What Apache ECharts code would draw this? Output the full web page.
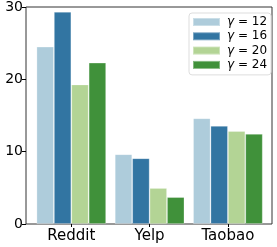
<!DOCTYPE html>
<html><head><meta charset="utf-8">
<script src="https://cdn.jsdelivr.net/npm/echarts@6/dist/echarts.min.js"></script>
<style>html,body{margin:0;padding:0;background:#fff}#c{width:277px;height:247px}</style>
</head><body><div id="c"></div>
<script>
const categories = ['Reddit', 'Yelp', 'Taobao'];
const seriesNames = ['12', '16', '20', '24'];
const gamma12 = [24.4, 9.6, 14.55];
const gamma16 = [29.2, 9.05, 13.5];
const gamma20 = [19.2, 4.95, 12.8];
const gamma24 = [22.2, 3.7, 12.4];
const yTicks = [0, 10, 20, 30];
const colors = ['#aeccdb', '#3275a2', '#b3d495', '#40913a'];
const values = [gamma12, gamma16, gamma20, gamma24];

const font = 'DejaVu Sans';
const chart = echarts.init(document.getElementById('c'), null, {renderer: 'canvas'});
chart.setOption({
  animation: false,
  grid: [
    {left: 26, right: 5, top: 6, bottom: 23, show: true, borderColor: '#333', borderWidth: 1, backgroundColor: 'transparent'},
    {left: 32.15, right: 9.95, top: 6, bottom: 23}
  ],
  xAxis: [
    {gridIndex: 0, type: 'value', show: false, min: 0, max: 1},
    {gridIndex: 1, type: 'category', data: categories,
     axisLine: {show: false},
     axisTick: {show: true, alignWithLabel: true, length: 3, lineStyle: {color: '#000'}},
     axisLabel: {fontFamily: font, fontSize: 15, color: '#000', margin: 5}}
  ],
  yAxis: [
    {gridIndex: 0, type: 'value', min: yTicks[0], max: yTicks[yTicks.length - 1], interval: 10,
     splitLine: {show: false},
     axisLine: {show: false},
     axisTick: {show: true, length: 4, lineStyle: {color: '#000'}},
     axisLabel: {fontFamily: font, fontSize: 14, color: '#000', margin: 3}},
    {gridIndex: 1, type: 'value', min: yTicks[0], max: yTicks[yTicks.length - 1], show: false, splitLine: {show: false}}
  ],
  legend: {
    orient: 'vertical', left: 189, top: 13,
    padding: [2, 4, 3, 3],
    itemWidth: 27, itemHeight: 8, itemGap: 0.3,
    borderColor: '#ddd', borderWidth: 1, borderRadius: 3,
    icon: 'rect',
    data: seriesNames.map(n => 'γ = ' + n),
    formatter: name => '{g|γ}' + name.slice(1),
    textStyle: {fontFamily: font, fontSize: 12, color: '#000', lineHeight: 14, padding: [0, 0, 0, 2],
      rich: {g: {fontFamily: font, fontStyle: 'italic', fontSize: 12, color: '#000', lineHeight: 14}}}
  },
  series: values.map((v, i) => ({
    type: 'bar', name: 'γ = ' + seriesNames[i], xAxisIndex: 1, yAxisIndex: 1,
    data: v, barWidth: 17.4, barGap: '0%',
    itemStyle: {color: colors[i], borderColor: 'rgba(255,255,255,0.35)', borderWidth: 0.8}
  }))
});
</script></body></html>
